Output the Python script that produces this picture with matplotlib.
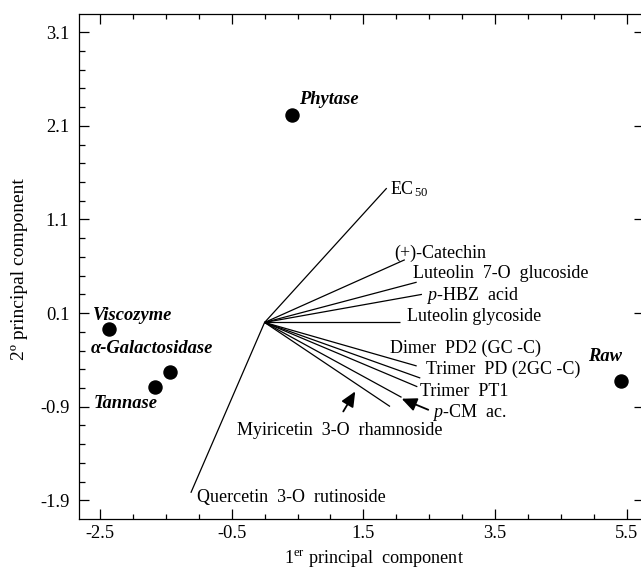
import numpy as np
import matplotlib
matplotlib.use("Agg")
import matplotlib.pyplot as plt
from matplotlib.ticker import FixedLocator

plt.rcParams['font.family'] = ['Liberation Serif', 'DejaVu Serif']
plt.rcParams['mathtext.fontset'] = 'custom'
plt.rcParams['mathtext.rm'] = 'Liberation Serif'
plt.rcParams['mathtext.it'] = 'Liberation Serif:italic'
plt.rcParams['mathtext.bf'] = 'Liberation Serif:bold'

# ---- data: sample scores ----
sample_names = ['Phytase', 'Viscozyme', 'α-Galactosidase', 'Tannase', 'Raw']
sample_x = [0.41, -2.36, -1.44, -1.67, 5.41]
sample_y = [2.22, -0.07, -0.53, -0.69, -0.63]

# ---- data: variable loadings (vectors from origin) ----
var_names = ['EC$_{\\,50}$', '(+)-Catechin', 'Luteolin  7-O  glucoside',
             '$\\mathit{p}$-HBZ  acid', 'Luteolin glycoside',
             'Dimer  PD2 (GC -C)', 'Trimer  PD (2GC -C)', 'Trimer  PT1',
             '$\\mathit{p}$-CM  ac.', 'Myiricetin  3-O  rhamnoside',
             'Quercetin  3-O  rutinoside']
var_x = [1.855, 2.13, 2.31, 2.39, 2.06, 2.31, 2.365, 2.32, 2.08, 1.905, -1.12]
var_y = [1.435, 0.67, 0.43, 0.30, 0.0, -0.465, -0.594, -0.687, -0.80, -0.898, -1.82]

x_ticks = [-2.5, -0.5, 1.5, 3.5, 5.5]
y_ticks = [-1.9, -0.9, 0.1, 1.1, 2.1, 3.1]

# ---- layout (label anchors, not data) ----
sample_label_pos = [(0.52, 2.336), (-2.606, 0.021), (-2.641, -0.327),
                    (-2.602, -0.909), (4.916, -0.417)]
var_label_pos = [(1.905, 1.364), (1.965, 0.688), (2.259, 0.474), (2.451, 0.242),
                 (2.163, 0.018), (1.905, -0.327), (2.451, -0.552), (2.36, -0.791),
                 (2.536, -1.011), (-0.415, -1.2), (-1.031, -1.923)]
arrow_specs = [((1.195, -0.951), (1.377, -0.737)),
               ((2.486, -0.933), (2.082, -0.815))]

W, H = 641, 568
fig = plt.figure(figsize=(W / 100, H / 100), dpi=100)
ax = fig.add_axes([79 / W, 1 - 519 / H, (644 - 79) / W, (519 - 14) / H])
ax.set_xlim(-2.819, 5.763)
ax.set_ylim(-2.1, 3.2955)

# vectors
for vx, vy in zip(var_x, var_y):
    ax.plot([0, vx], [0, vy], color='black', lw=0.9, solid_capstyle='butt')

# samples
ax.plot(sample_x, sample_y, 'o', color='black', markersize=9.4, linestyle='none')

for name, (lx, ly) in zip(sample_names, sample_label_pos):
    ax.text(lx, ly, name, fontsize=13.3, fontweight='bold', fontstyle='italic',
            ha='left', va='baseline')

for name, (lx, ly) in zip(var_names, var_label_pos):
    ax.text(lx, ly, name, fontsize=13, ha='left', va='baseline')

for tail, tip in arrow_specs:
    ax.annotate('', xy=tip, xytext=tail,
                arrowprops=dict(arrowstyle='-|>,head_length=1.0,head_width=0.45',
                                color='black', lw=1.3, mutation_scale=9,
                                shrinkA=0, shrinkB=0))

ax.set_xticks(x_ticks)
ax.set_xticklabels([f'{v:g}' for v in x_ticks])
ax.set_yticks(y_ticks)
ax.set_yticklabels([f'{v:g}' for v in y_ticks])
ax.xaxis.set_minor_locator(FixedLocator(np.arange(-2.5, 5.6, 0.5)))
ax.yaxis.set_minor_locator(FixedLocator(np.arange(-1.9, 3.2, 0.2)))
ax.tick_params(which='both', direction='in', top=True, right=True, labelsize=13.3, width=0.9)
ax.tick_params(which='major', length=7)
ax.tick_params(which='minor', length=3.5)
ax.tick_params(axis='y', which='major', pad=7, length=7.5)
ax.tick_params(axis='y', which='minor', right=False, length=4.2)
ax.tick_params(axis='x', which='major', pad=4)
for s in ax.spines.values():
    s.set_linewidth(0.9)

fig.text(374 / W, 1 - 563 / H, '1$^{\\rm er}$ principal  component', fontsize=13.1,
         ha='center', va='baseline')
fig.text(20 / W, 1 - 269 / H, '2º principal component', fontsize=14,
         ha='center', va='center', rotation=90)

fig.savefig('out.png', dpi=100)
